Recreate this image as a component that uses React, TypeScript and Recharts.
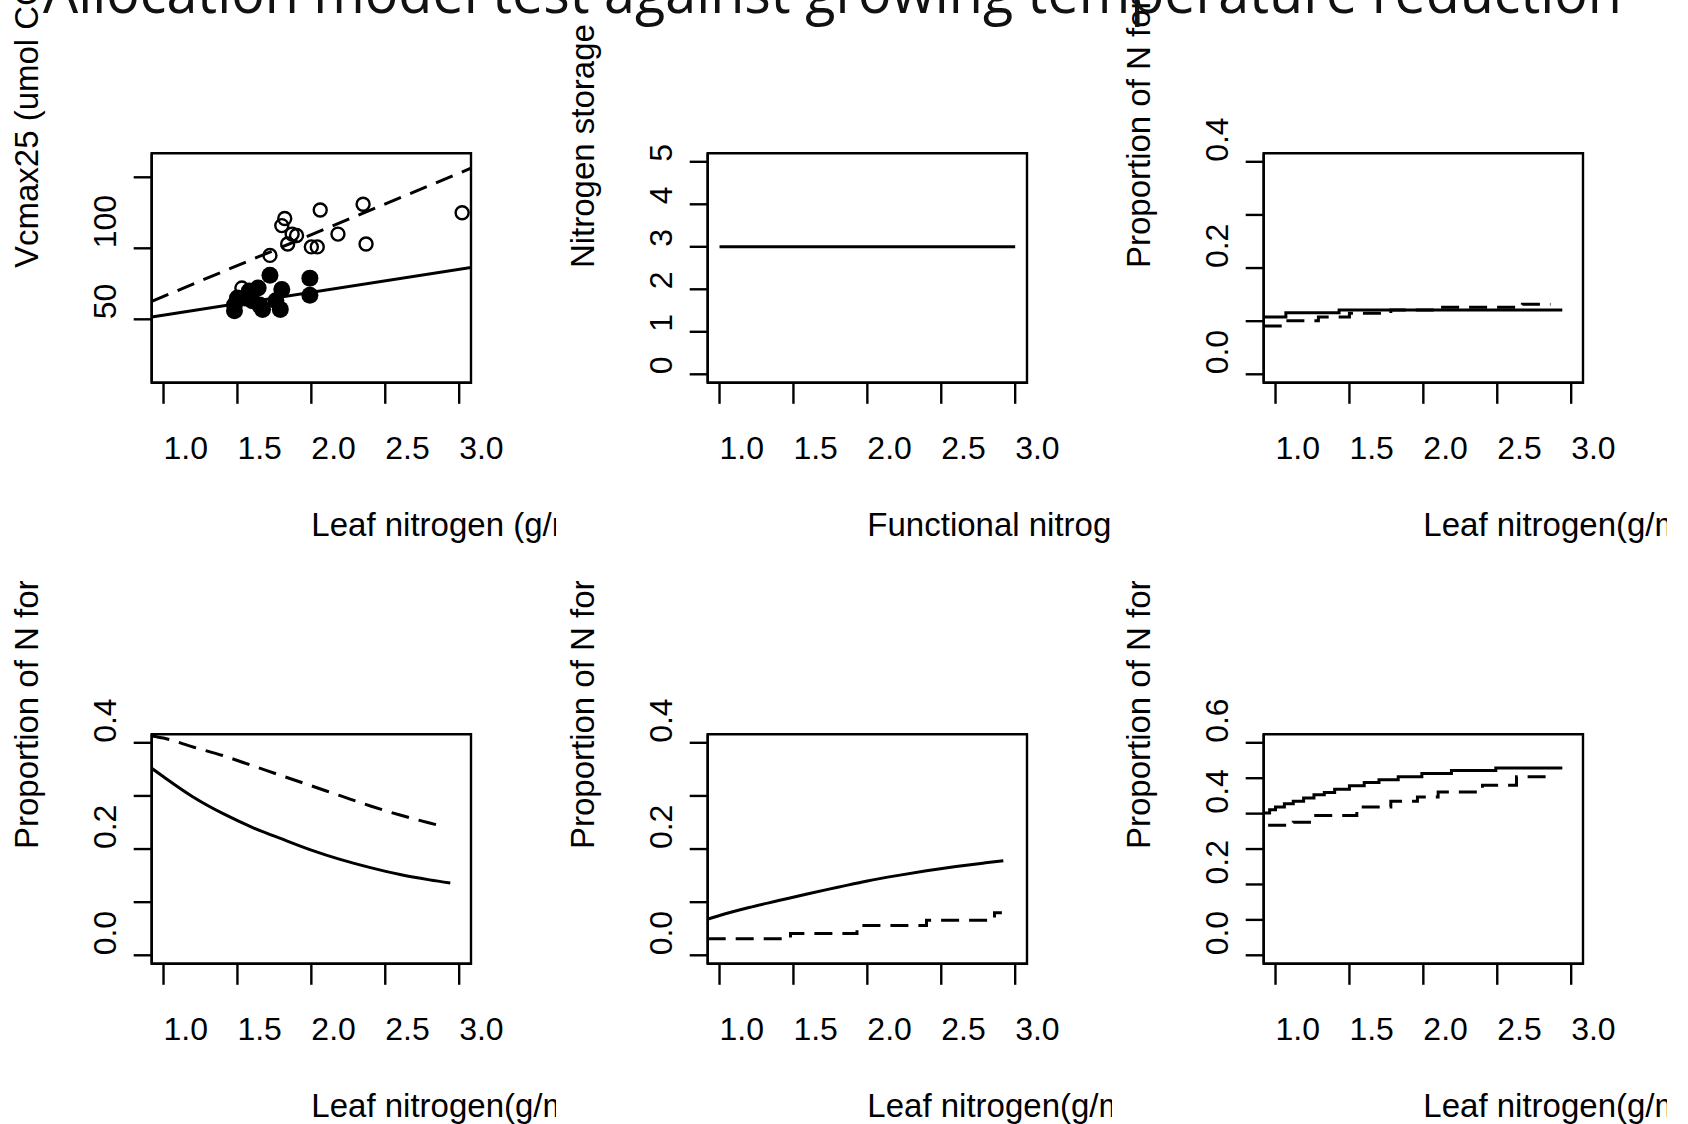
import React from 'react';
import { ComposedChart, Line, Scatter, XAxis, YAxis, ReferenceArea } from 'recharts';

type Pt = { x: number; y: number };

// shared x axis (leaf / functional nitrogen)
const xTicks = [1.0, 1.5, 2.0, 2.5, 3.0];
const xDomain: [number, number] = [0.92, 3.08];

// panel 1: Vcmax25 vs leaf N
const openObs: Pt[] = [
  { x: 1.53, y: 72 }, { x: 1.72, y: 95 }, { x: 1.8, y: 116 }, { x: 1.82, y: 121 },
  { x: 1.84, y: 103 }, { x: 1.87, y: 110 }, { x: 1.9, y: 109 }, { x: 2.0, y: 101 },
  { x: 2.04, y: 101 }, { x: 2.06, y: 127 }, { x: 2.18, y: 110 }, { x: 2.35, y: 131 },
  { x: 2.37, y: 103 }, { x: 3.02, y: 125 },
];
const filledObs: Pt[] = [
  { x: 1.48, y: 56 }, { x: 1.48, y: 60 }, { x: 1.5, y: 65 }, { x: 1.55, y: 65 },
  { x: 1.58, y: 70 }, { x: 1.6, y: 63 }, { x: 1.64, y: 72 }, { x: 1.65, y: 60 },
  { x: 1.67, y: 57 }, { x: 1.72, y: 81 }, { x: 1.76, y: 63 }, { x: 1.79, y: 57 },
  { x: 1.8, y: 71 }, { x: 1.99, y: 79 }, { x: 1.99, y: 67 },
];
const vcmaxFitSolid: Pt[] = [{ x: 0.92, y: 51.6 }, { x: 3.08, y: 86.5 }];
const vcmaxFitDashed: Pt[] = [{ x: 0.92, y: 62.7 }, { x: 3.08, y: 156.4 }];

// panel 2: nitrogen storage
const storageLine: Pt[] = [{ x: 1.0, y: 3 }, { x: 3.0, y: 3 }];

// panel 3
const p3Solid: Pt[] = [
  { x: 0.92, y: 0.108 }, { x: 1.07, y: 0.116 }, { x: 1.43, y: 0.121 }, { x: 2.94, y: 0.121 },
];
const p3Dashed: Pt[] = [
  { x: 0.92, y: 0.091 }, { x: 1.05, y: 0.101 }, { x: 1.29, y: 0.108 }, { x: 1.5, y: 0.115 },
  { x: 1.78, y: 0.121 }, { x: 2.1, y: 0.126 }, { x: 2.67, y: 0.132 }, { x: 2.86, y: 0.132 },
];

// panel 4
const p4Solid: Pt[] = [
  { x: 0.92, y: 0.352 }, { x: 1.0, y: 0.336 }, { x: 1.2, y: 0.298 }, { x: 1.4, y: 0.267 },
  { x: 1.6, y: 0.241 }, { x: 1.8, y: 0.219 }, { x: 2.0, y: 0.198 }, { x: 2.2, y: 0.18 },
  { x: 2.4, y: 0.165 }, { x: 2.6, y: 0.152 }, { x: 2.8, y: 0.142 }, { x: 2.94, y: 0.136 },
];
const p4Dashed: Pt[] = [
  { x: 0.92, y: 0.413 }, { x: 1.0, y: 0.409 }, { x: 1.2, y: 0.392 }, { x: 1.4, y: 0.376 },
  { x: 1.6, y: 0.357 }, { x: 1.8, y: 0.338 }, { x: 2.0, y: 0.319 }, { x: 2.2, y: 0.3 },
  { x: 2.4, y: 0.281 }, { x: 2.6, y: 0.264 }, { x: 2.8, y: 0.249 }, { x: 2.9, y: 0.242 },
];

// panel 5
const p5Solid: Pt[] = [
  { x: 0.92, y: 0.068 }, { x: 1.0, y: 0.075 }, { x: 1.2, y: 0.09 }, { x: 1.4, y: 0.103 },
  { x: 1.6, y: 0.116 }, { x: 1.8, y: 0.128 }, { x: 2.0, y: 0.14 }, { x: 2.2, y: 0.15 },
  { x: 2.4, y: 0.159 }, { x: 2.6, y: 0.167 }, { x: 2.8, y: 0.174 }, { x: 2.92, y: 0.178 },
];
const p5Dashed: Pt[] = [
  { x: 0.92, y: 0.031 }, { x: 1.48, y: 0.041 }, { x: 1.93, y: 0.056 }, { x: 2.4, y: 0.066 },
  { x: 2.86, y: 0.08 }, { x: 2.91, y: 0.08 },
];

// panel 6
const p6Solid: Pt[] = [
  { x: 0.92, y: 0.402 }, { x: 0.96, y: 0.411 }, { x: 1.0, y: 0.419 }, { x: 1.06, y: 0.428 },
  { x: 1.12, y: 0.435 }, { x: 1.19, y: 0.444 }, { x: 1.26, y: 0.453 }, { x: 1.33, y: 0.46 },
  { x: 1.4, y: 0.469 }, { x: 1.5, y: 0.479 }, { x: 1.6, y: 0.488 }, { x: 1.7, y: 0.496 },
  { x: 1.83, y: 0.504 }, { x: 1.99, y: 0.513 }, { x: 2.19, y: 0.522 }, { x: 2.49, y: 0.529 },
  { x: 2.94, y: 0.529 },
];
const p6Dashed: Pt[] = [
  { x: 0.95, y: 0.367 }, { x: 1.12, y: 0.376 }, { x: 1.26, y: 0.395 }, { x: 1.55, y: 0.419 },
  { x: 1.78, y: 0.435 }, { x: 1.96, y: 0.447 }, { x: 2.1, y: 0.461 }, { x: 2.4, y: 0.48 },
  { x: 2.63, y: 0.504 }, { x: 2.89, y: 0.504 },
];

const vcmaxTicks = [50, 100, 150];
const vcmaxLabelled = [50, 100];
const storageTicks = [0, 1, 2, 3, 4, 5];
const prop4Ticks = [0, 0.1, 0.2, 0.3, 0.4];
const prop6Ticks = [0, 0.1, 0.2, 0.3, 0.4, 0.5, 0.6];
const propLabelled = [0, 0.2, 0.4, 0.6];

// layout of one panel cell (R mfrow 2x3 stretched onto the slide)
const COL_W = 555.8;
const ROW_H = 581;
const BOX_L = 151.7;
const BOX_R = 471;
const BOX_T = 153.3;
const BOX_B = 382.8;
const Y_AXIS_W = 80;
const X_AXIS_H = 80;
const FONT = '"Liberation Sans", Arial, sans-serif';
const INK = '#000';
const LW = 3;
const TICK_FONT = 32;

type Curve = { data: Pt[]; dashed?: boolean; type: 'linear' | 'monotone' | 'stepAfter' };

type PanelProps = {
  col: number;
  row: number;
  yDomain: [number, number];
  yTicks: number[];
  yLabelled: number[];
  yDigits: number;
  xTitle: string;
  yTitle: string;
  curves: Curve[];
  openPts?: Pt[];
  filledPts?: Pt[];
};

const XTick = (props: any) => (
  <text x={props.x} y={BOX_B + 76} fontSize={TICK_FONT} fontFamily={FONT} fill={INK} textAnchor="start">
    {Number(props.payload.value).toFixed(1)}
  </text>
);

const makeYTick = (labelled: number[], digits: number) => (props: any) => {
  const v = props.payload.value;
  if (!labelled.includes(v)) return <g />;
  return (
    <text
      transform={`translate(${BOX_L - 36},${props.y}) rotate(-90)`}
      fontSize={TICK_FONT}
      fontFamily={FONT}
      fill={INK}
      textAnchor="start"
    >
      {Number(v).toFixed(digits)}
    </text>
  );
};

const OpenDot = (p: any) => <circle cx={p.cx} cy={p.cy} r={6.5} fill="none" stroke={INK} strokeWidth={2.4} />;
const FilledDot = (p: any) => <circle cx={p.cx} cy={p.cy} r={8.5} fill={INK} />;

function Panel({ col, row, yDomain, yTicks, yLabelled, yDigits, xTitle, yTitle, curves, openPts, filledPts }: PanelProps) {
  const midX = (BOX_L + BOX_R) / 2;
  const midY = (BOX_T + BOX_B) / 2;
  return (
    <div
      style={{
        position: 'absolute',
        left: col * COL_W,
        top: row * ROW_H,
        width: COL_W,
        height: ROW_H,
        overflow: 'hidden',
      }}
    >
      <ComposedChart
        width={COL_W}
        height={ROW_H}
        margin={{
          top: BOX_T,
          left: BOX_L - Y_AXIS_W,
          right: COL_W - BOX_R,
          bottom: ROW_H - BOX_B - X_AXIS_H,
        }}
      >
        <XAxis
          type="number"
          dataKey="x"
          domain={xDomain}
          ticks={xTicks}
          interval={0}
          allowDataOverflow
          height={X_AXIS_H}
          tickSize={21}
          tick={XTick}
          tickLine={{ stroke: INK, strokeWidth: 2.4 }}
          axisLine={{ stroke: INK, strokeWidth: 2.4 }}
        />
        <YAxis
          type="number"
          dataKey="y"
          domain={yDomain}
          ticks={yTicks}
          interval={0}
          allowDataOverflow
          width={Y_AXIS_W}
          tickSize={18}
          tick={makeYTick(yLabelled, yDigits)}
          tickLine={{ stroke: INK, strokeWidth: 2.4 }}
          axisLine={{ stroke: INK, strokeWidth: 2.4 }}
        />
        <ReferenceArea
          x1={xDomain[0]}
          x2={xDomain[1]}
          y1={yDomain[0]}
          y2={yDomain[1]}
          fill="none"
          fillOpacity={0}
          stroke={INK}
          strokeWidth={2.4}
          ifOverflow="visible"
        />
        {curves.map((c, i) => (
          <Line
            key={i}
            data={c.data}
            dataKey="y"
            type={c.type}
            stroke={INK}
            strokeWidth={LW}
            strokeDasharray={c.dashed ? '18 10' : undefined}
            dot={false}
            activeDot={false}
            isAnimationActive={false}
          />
        ))}
        {openPts && <Scatter data={openPts} dataKey="y" shape={OpenDot} isAnimationActive={false} />}
        {filledPts && <Scatter data={filledPts} dataKey="y" shape={FilledDot} isAnimationActive={false} />}
      </ComposedChart>
      <svg width={COL_W} height={ROW_H} style={{ position: 'absolute', left: 0, top: 0, pointerEvents: 'none' }}>
        <text x={midX} y={BOX_B + 152.7} fontSize={33} fontFamily={FONT} fill={INK} textAnchor="start">
          {xTitle}
        </text>
        <text
          transform={`translate(${BOX_L - 114},${midY}) rotate(-90)`}
          fontSize={33}
          fontFamily={FONT}
          fill={INK}
          textAnchor="start"
        >
          {yTitle}
        </text>
      </svg>
    </div>
  );
}

export default function App() {
  return (
    <div
      style={{
        position: 'absolute',
        left: 0,
        top: 0,
        width: 1688,
        height: 1124,
        overflow: 'hidden',
        background: '#fff',
      }}
    >
      <Panel
        col={0}
        row={0}
        yDomain={[5.3, 166.9]}
        yTicks={vcmaxTicks}
        yLabelled={vcmaxLabelled}
        yDigits={0}
        xTitle="Leaf nitrogen (g/m2)"
        yTitle="Vcmax25 (umol CO2 m-2 s-1)"
        curves={[
          { data: vcmaxFitSolid, type: 'linear' },
          { data: vcmaxFitDashed, type: 'linear', dashed: true },
        ]}
        openPts={openObs}
        filledPts={filledObs}
      />
      <Panel
        col={1}
        row={0}
        yDomain={[-0.2, 5.2]}
        yTicks={storageTicks}
        yLabelled={storageTicks}
        yDigits={0}
        xTitle="Functional nitrogen (g/m2)"
        yTitle="Nitrogen storage"
        curves={[{ data: storageLine, type: 'linear' }]}
      />
      <Panel
        col={2}
        row={0}
        yDomain={[-0.016, 0.416]}
        yTicks={prop4Ticks}
        yLabelled={propLabelled}
        yDigits={1}
        xTitle="Leaf nitrogen(g/m2)"
        yTitle="Proportion of N for storage"
        curves={[
          { data: p3Solid, type: 'stepAfter' },
          { data: p3Dashed, type: 'stepAfter', dashed: true },
        ]}
      />
      <Panel
        col={0}
        row={1}
        yDomain={[-0.016, 0.416]}
        yTicks={prop4Ticks}
        yLabelled={propLabelled}
        yDigits={1}
        xTitle="Leaf nitrogen(g/m2)"
        yTitle="Proportion of N for carboxylation"
        curves={[
          { data: p4Solid, type: 'monotone' },
          { data: p4Dashed, type: 'monotone', dashed: true },
        ]}
      />
      <Panel
        col={1}
        row={1}
        yDomain={[-0.016, 0.416]}
        yTicks={prop4Ticks}
        yLabelled={propLabelled}
        yDigits={1}
        xTitle="Leaf nitrogen(g/m2)"
        yTitle="Proportion of N for electron transport"
        curves={[
          { data: p5Solid, type: 'monotone' },
          { data: p5Dashed, type: 'stepAfter', dashed: true },
        ]}
      />
      <Panel
        col={2}
        row={1}
        yDomain={[-0.024, 0.624]}
        yTicks={prop6Ticks}
        yLabelled={propLabelled}
        yDigits={1}
        xTitle="Leaf nitrogen(g/m2)"
        yTitle="Proportion of N for light capture"
        curves={[
          { data: p6Solid, type: 'stepAfter' },
          { data: p6Dashed, type: 'stepAfter', dashed: true },
        ]}
      />
      <svg width={1688} height={80} style={{ position: 'absolute', left: 0, top: 0, pointerEvents: 'none' }}>
        <text
          x={43}
          y={12.7}
          fontSize={58}
          fontFamily='"Open Sans", "Noto Sans", sans-serif'
          fill="#111"
          textLength={1579}
          lengthAdjust="spacingAndGlyphs"
        >
          Allocation model test against growing temperature reduction
        </text>
      </svg>
    </div>
  );
}
